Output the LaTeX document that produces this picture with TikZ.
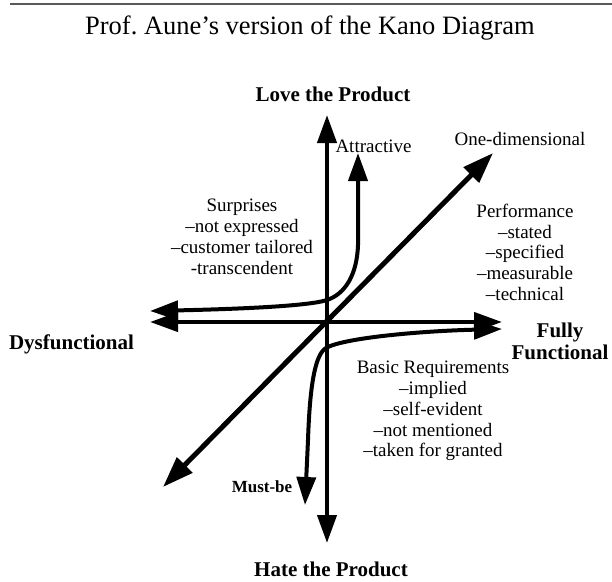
\documentclass[tikz,border=0pt]{standalone}
\usepackage{fontspec}
\setmainfont{Liberation Serif}
\usetikzlibrary{arrows.meta}
\frenchspacing
\begin{document}
\begin{tikzpicture}[x=1pt,y=-1pt,
  axisline/.style={line width=4.2pt,{Triangle[length=28pt,width=19pt]}-{Triangle[length=28pt,width=19pt]}},
  diagline/.style={line width=5pt,{Triangle[length=31pt,width=21pt]}-{Triangle[length=31pt,width=21pt]}},
  curveline/.style={line width=4pt,{Triangle[length=28pt,width=19pt]}-{Triangle[length=28pt,width=19pt]}},
  lbl/.style={inner sep=0pt,align=center,font=\fontsize{19}{20.7}\selectfont},
  boldlbl/.style={inner sep=0pt,align=center,font=\bfseries\fontsize{21}{22}\selectfont},
  smallbold/.style={inner sep=0pt,font=\bfseries\fontsize{17}{18}\selectfont}
]
\useasboundingbox (0,0) rectangle (612,581);

% header rule and title
\coordinate (ruleL) at (10,4);
\coordinate (ruleR) at (612,4);
\draw[black!65,line width=1.5pt] (ruleL) -- (ruleR);
\node[inner sep=0pt,anchor=base,font=\fontsize{26.5}{30}\selectfont] (title) at (310,34)
  {Prof. Aune’s version of the Kano Diagram};

% axis end points
\coordinate (O) at (327,322);
\coordinate (vtop) at (327,115);
\coordinate (vbot) at (327,543);
\coordinate (hleft) at (150,322);
\coordinate (hright) at (502,322);
\coordinate (dlow) at (163,487);
\coordinate (dhigh) at (493,153);

% curve end points
\coordinate (aleft) at (150,311);
\coordinate (acorner) at (327,300);
\coordinate (abend) at (358,245);
\coordinate (atip) at (358,153);
\coordinate (mright) at (502,329);
\coordinate (mcorner) at (326,348);
\coordinate (mbend) at (308,440);
\coordinate (mtip) at (305,505);

% axes
\draw[axisline] (vbot) -- (vtop);
\draw[axisline] (hleft) -- (hright);
\draw[diagline] (dlow) -- (dhigh);

% attractive and must-be curves
\draw[curveline] (aleft) .. controls (240,309) and (309,306) .. (acorner)
  .. controls (345,294) and (357,275) .. (abend) -- (atip);
\draw[curveline] (mright) .. controls (420,331) and (343,338) .. (mcorner)
  .. controls (316,354) and (310,380) .. (mbend) -- (mtip);

% axis labels
\node[boldlbl,anchor=base] (love) at (333,101) {Love the Product};
\node[boldlbl,anchor=base] (hate) at (331,576) {Hate the Product};
\node[boldlbl,anchor=base] (dys) at (71.5,349) {Dysfunctional};
\node[boldlbl,anchor=north] (fully) at (560,322.8) {Fully\\Functional};

% curve labels
\node[lbl,anchor=base] (attr) at (373.5,152) {Attractive};
\node[lbl,anchor=base] (onedim) at (520,145) {One-dimensional};
\node[smallbold,anchor=base] (mustbe) at (262,492) {Must-be};

% descriptions
\node[lbl,anchor=north] (surprises) at (242,199.2)
  {Surprises\\–not expressed\\–customer tailored\\-transcendent};
\node[lbl,anchor=north] (perf) at (525,204)
  {Performance\\–stated\\–specified\\–measurable\\–technical};
\node[lbl,anchor=north] (basic) at (433,361.2)
  {Basic Requirements\\–implied\\–self-evident\\–not mentioned\\–taken for granted};
\end{tikzpicture}
\end{document}
